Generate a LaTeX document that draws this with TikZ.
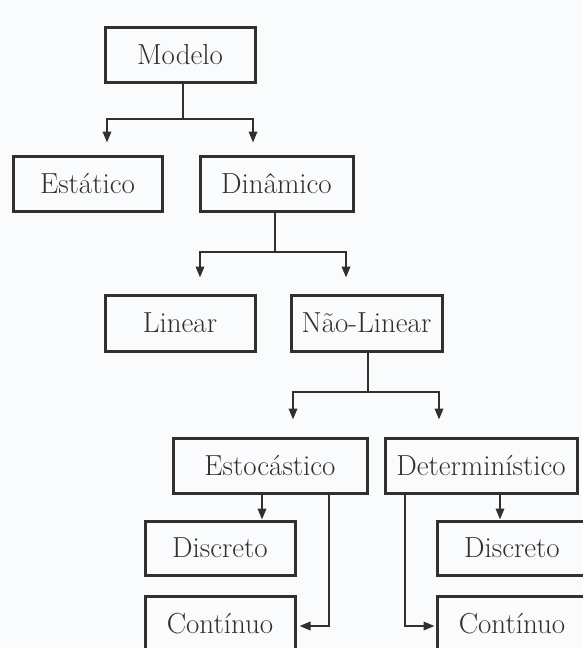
\documentclass[tikz,border=0pt]{standalone}
\usetikzlibrary{arrows.meta}
\definecolor{ink}{HTML}{303030}
\definecolor{bg}{HTML}{FAFBFC}
\begin{document}
\begin{tikzpicture}[x=1pt,y=-1pt,
  box/.style={draw=ink,line width=3pt,minimum height=55pt,inner sep=0pt,text=ink,font=\fontsize{29}{32}\selectfont},
  conn/.style={draw=ink,line width=2pt},
  arr/.style={conn,-{Triangle[length=11pt,width=8.5pt]}}]
\fill[bg] (0,0) rectangle (582,648);
\useasboundingbox (0,0) rectangle (582,648);
\node[box,minimum width=150pt] (modelo) at (180,54.5) {Modelo};
\node[box,minimum width=149pt] (estatico) at (87.5,183.5) {Estático};
\node[box,minimum width=153pt] (dinamico) at (276.5,183.5) {Dinâmico};
\node[box,minimum width=150pt,minimum height=56pt] (linear) at (180,323) {Linear};
\node[box,minimum width=151pt,minimum height=56pt] (naolinear) at (366.5,323) {Não-Linear};
\node[box,minimum width=194pt] (estoc) at (270,465.5) {Estocástico};
\node[box,minimum width=192pt] (determ) at (481,465.5) {Determinístico};
\node[box,minimum width=150pt,minimum height=54pt] (discL) at (220,548) {Discreto};
\node[box,minimum width=150pt] (contL) at (220,623.5) {Contínuo};
\node[box,minimum width=150pt,minimum height=54pt] (discR) at (512,548) {Discreto};
\node[box,minimum width=150pt] (contR) at (512,623.5) {Contínuo};
% Modelo
\draw[conn] ([xshift=3pt]modelo.south) -- ++(0,35) coordinate (mj);
\draw[arr] (mj) -| ([xshift=19.5pt,yshift=12pt]estatico.north);
\draw[arr] (mj) -| ([xshift=-23.5pt,yshift=12pt]dinamico.north);
% Dinamico
\draw[conn] ([xshift=-1.5pt]dinamico.south) -- ++(0,39) coordinate (dj);
\draw[arr] (dj) -| ([xshift=20pt,yshift=16pt]linear.north);
\draw[arr] (dj) -| ([xshift=-20.5pt,yshift=16pt]naolinear.north);
% Nao-Linear
\draw[conn] ([xshift=1.5pt]naolinear.south) -- ++(0,39) coordinate (nj);
\draw[arr] (nj) -| ([xshift=23pt,yshift=17pt]estoc.north);
\draw[arr] (nj) -| ([xshift=-42pt,yshift=17pt]determ.north);
% Estocastico
\draw[arr] ([xshift=-8pt]estoc.south) -- ([xshift=-8pt]estoc.south |- discL.north);
\draw[arr] ([xshift=-40pt]estoc.south east) |- ([xshift=3pt,yshift=-2.5pt]contL.east);
% Deterministico
\draw[arr] ([xshift=19pt]determ.south) -- ([xshift=19pt]determ.south |- discR.north);
\draw[arr] ([xshift=21pt]determ.south west) |- ([xshift=-1pt,yshift=-2.5pt]contR.west);
\end{tikzpicture}
\end{document}
